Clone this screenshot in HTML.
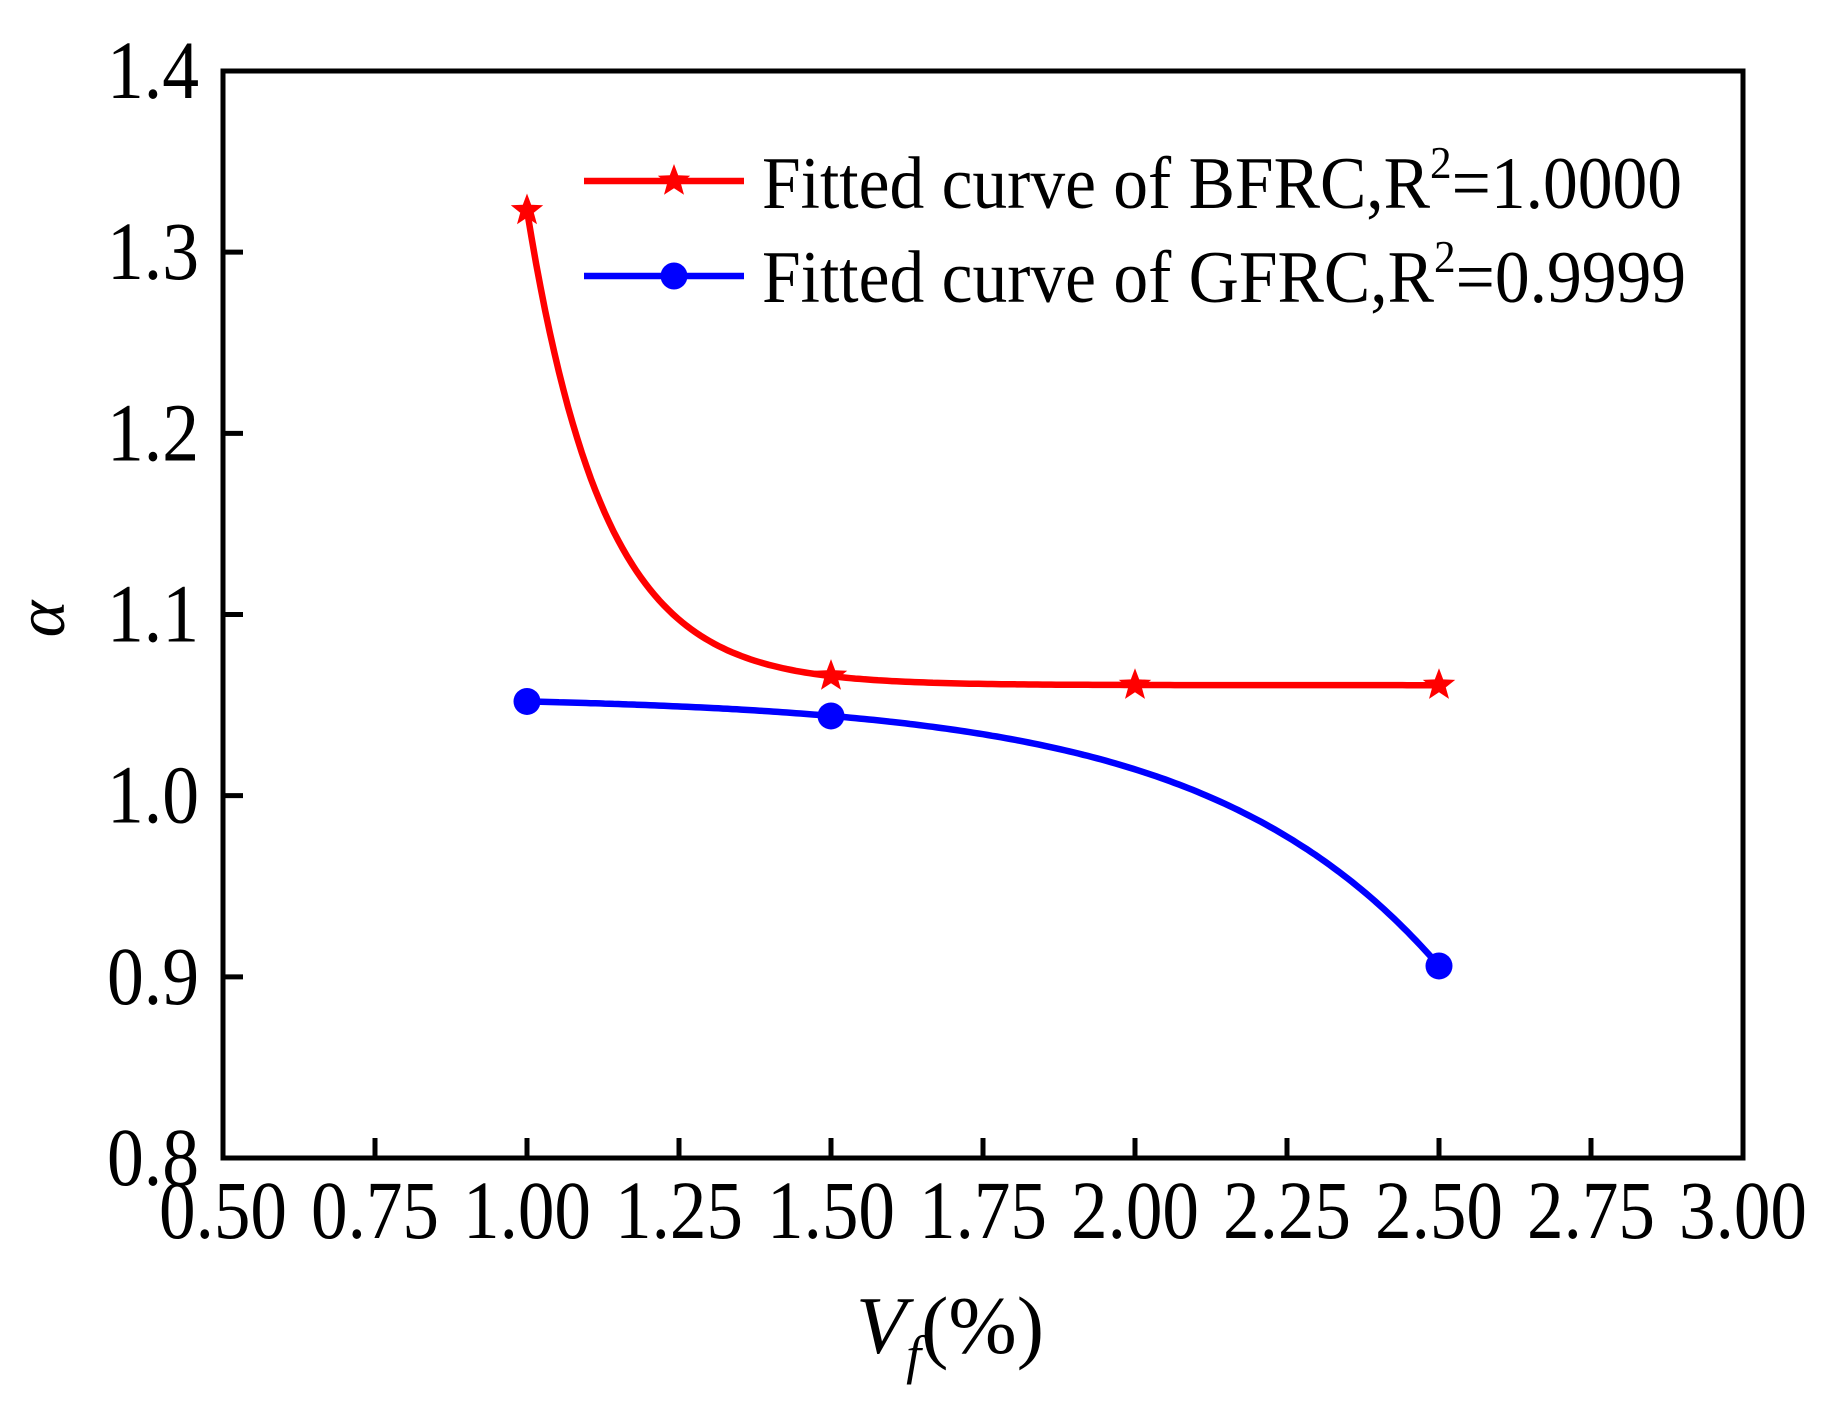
<!DOCTYPE html>
<html><head><meta charset="utf-8"><style>
html,body{margin:0;padding:0;background:#fff;}
svg{display:block;font-family:"Liberation Serif",serif;}
</style></head><body>
<svg id="chart" width="1830" height="1411" viewBox="0 0 1830 1411" xmlns="http://www.w3.org/2000/svg">
<g id="plot"></g>
</svg>
<script>
const xTicks = [0.50,0.75,1.00,1.25,1.50,1.75,2.00,2.25,2.50,2.75,3.00];
const xTickLabels = ["0.50","0.75","1.00","1.25","1.50","1.75","2.00","2.25","2.50","2.75","3.00"];
const yTicks = [0.8,0.9,1.0,1.1,1.2,1.3,1.4];
const yTickLabels = ["0.8","0.9","1.0","1.1","1.2","1.3","1.4"];
const bfrcX = [1.0,1.5,2.0,2.5];
const bfrcY = [1.323,1.066,1.061,1.061];
const gfrcX = [1.0,1.5,2.5];
const gfrcY = [1.052,1.044,0.906];

const L=223,R=1743,T=71,B=1158;
const xMin=0.5,xMax=3.0,yMin=0.8,yMax=1.4;
function sx(v){return L+(v-xMin)/(xMax-xMin)*(R-L);}
function sy(v){return B-(v-yMin)/(yMax-yMin)*(B-T);}
const NS="http://www.w3.org/2000/svg";
const g=document.getElementById('plot');
function mk(tag,attrs,parent){const e=document.createElementNS(NS,tag);for(const k in attrs)e.setAttribute(k,attrs[k]);(parent||g).appendChild(e);return e;}

function bfrcFit(x){
  const x0=bfrcX[0],a=bfrcY[bfrcY.length-1],b=bfrcY[0]-a;
  const r=Math.max((bfrcY[1]-a)/b,1e-6);
  const k=-Math.log(r)/(bfrcX[1]-x0);
  return a+b*Math.exp(-k*(x-x0));
}
function gfrcFit(x){
  const x0=gfrcX[0],h=gfrcX[1]-x0,n=(gfrcX[2]-x0)/h;
  const d1=gfrcY[0]-gfrcY[1],d2=gfrcY[0]-gfrcY[2];
  const ratio=d2/d1;
  let lo=1.0001,hi=50;
  for(let i=0;i<100;i++){const m=(lo+hi)/2;const f=(Math.pow(m,n)-1)/(m-1);if(f>ratio)hi=m;else lo=m;}
  const u=(lo+hi)/2,d=d1/(u-1),c=gfrcY[0]+d;
  return c-d*Math.pow(u,(x-x0)/h);
}
function curvePath(fn,x1,x2){let p='';for(let i=0;i<=200;i++){const x=x1+(x2-x1)*i/200;p+=(i?'L':'M')+sx(x).toFixed(1)+','+sy(fn(x)).toFixed(1);}return p;}
function starPts(cx,cy,r){let p=[];for(let i=0;i<10;i++){const a=-Math.PI/2+i*Math.PI/5;const rr=i%2?r*0.42:r;p.push((cx+rr*Math.cos(a)).toFixed(1)+','+(cy+rr*Math.sin(a)).toFixed(1));}return p.join(' ');}

const rc=mk('path',{d:curvePath(bfrcFit,bfrcX[0],bfrcX[bfrcX.length-1]),fill:'none',stroke:'#ff0000','stroke-width':6.5});


const bc=mk('path',{d:curvePath(gfrcFit,gfrcX[0],gfrcX[gfrcX.length-1]),fill:'none',stroke:'#0000ff','stroke-width':6.5});



bfrcX.forEach((x,i)=>{
  const s=mk('polygon',{points:starPts(sx(x),sy(bfrcY[i]),17),fill:'#ff0000'});
  
  
});
gfrcX.forEach((x,i)=>{
  const c=mk('circle',{cx:sx(x),cy:sy(gfrcY[i]),r:13.5,fill:'#0000ff'});
  
  
});

const fr=mk('rect',{x:L,y:T,width:R-L,height:B-T,fill:'none',stroke:'#000','stroke-width':5});



xTicks.forEach((v,i)=>{
  const x=sx(v);
  if(i>0&&i<xTicks.length-1){
    const t=mk('line',{x1:x,y1:B,x2:x,y2:B-20,stroke:'#000','stroke-width':5});
    
    
  }
  const tx=mk('text',{x:x,y:1238,'text-anchor':'middle','font-size':83,fill:'#000',textLength:128,lengthAdjust:'spacingAndGlyphs'});
  tx.textContent=xTickLabels[i];
  
  
});
yTicks.forEach((v,i)=>{
  const y=sy(v);
  if(i>0&&i<yTicks.length-1){
    const t=mk('line',{x1:L,y1:y,x2:L+20,y2:y,stroke:'#000','stroke-width':5});
    
    
  }
  const ty=mk('text',{x:199,y:y+27,'text-anchor':'end','font-size':83,fill:'#000',textLength:92,lengthAdjust:'spacingAndGlyphs'});
  ty.textContent=yTickLabels[i];
  
  
});
</script>
<svg style="position:absolute;left:0;top:0" width="1830" height="1411" xmlns="http://www.w3.org/2000/svg" font-family="Liberation Serif, serif">
<g>
  <g>
    <line x1="584" y1="181" x2="744" y2="181" stroke="#ff0000" stroke-width="6.5"/>
    <polygon points="674.0,164.0 678.2,175.2 690.2,175.7 680.8,183.2 684.0,194.8 674.0,188.2 664.0,194.8 667.2,183.2 657.8,175.7 669.8,175.2" fill="#ff0000"/>
    <text x="762" y="208" font-size="74" textLength="920" lengthAdjust="spacingAndGlyphs">Fitted curve of BFRC,R<tspan dy="-30" font-size="46">2</tspan><tspan dy="30">=1.0000</tspan></text>
  </g>
  <g>
    <line x1="584" y1="276" x2="744" y2="276" stroke="#0000ff" stroke-width="6.5"/>
    <circle cx="674" cy="276" r="13.5" fill="#0000ff"/>
    <text x="762" y="302" font-size="74" textLength="924" lengthAdjust="spacingAndGlyphs">Fitted curve of GFRC,R<tspan dy="-30" font-size="46">2</tspan><tspan dy="30">=0.9999</tspan></text>
  </g>
</g>
<text x="0" y="0" font-size="70" font-style="italic" transform="translate(64,619) rotate(-90)" text-anchor="middle">α</text>
<text x="856" y="1353" font-size="82"><tspan font-style="italic">V</tspan><tspan font-style="italic" font-size="54" dy="20">f</tspan><tspan dy="-20">(%)</tspan></text>
</svg>
</body></html>
